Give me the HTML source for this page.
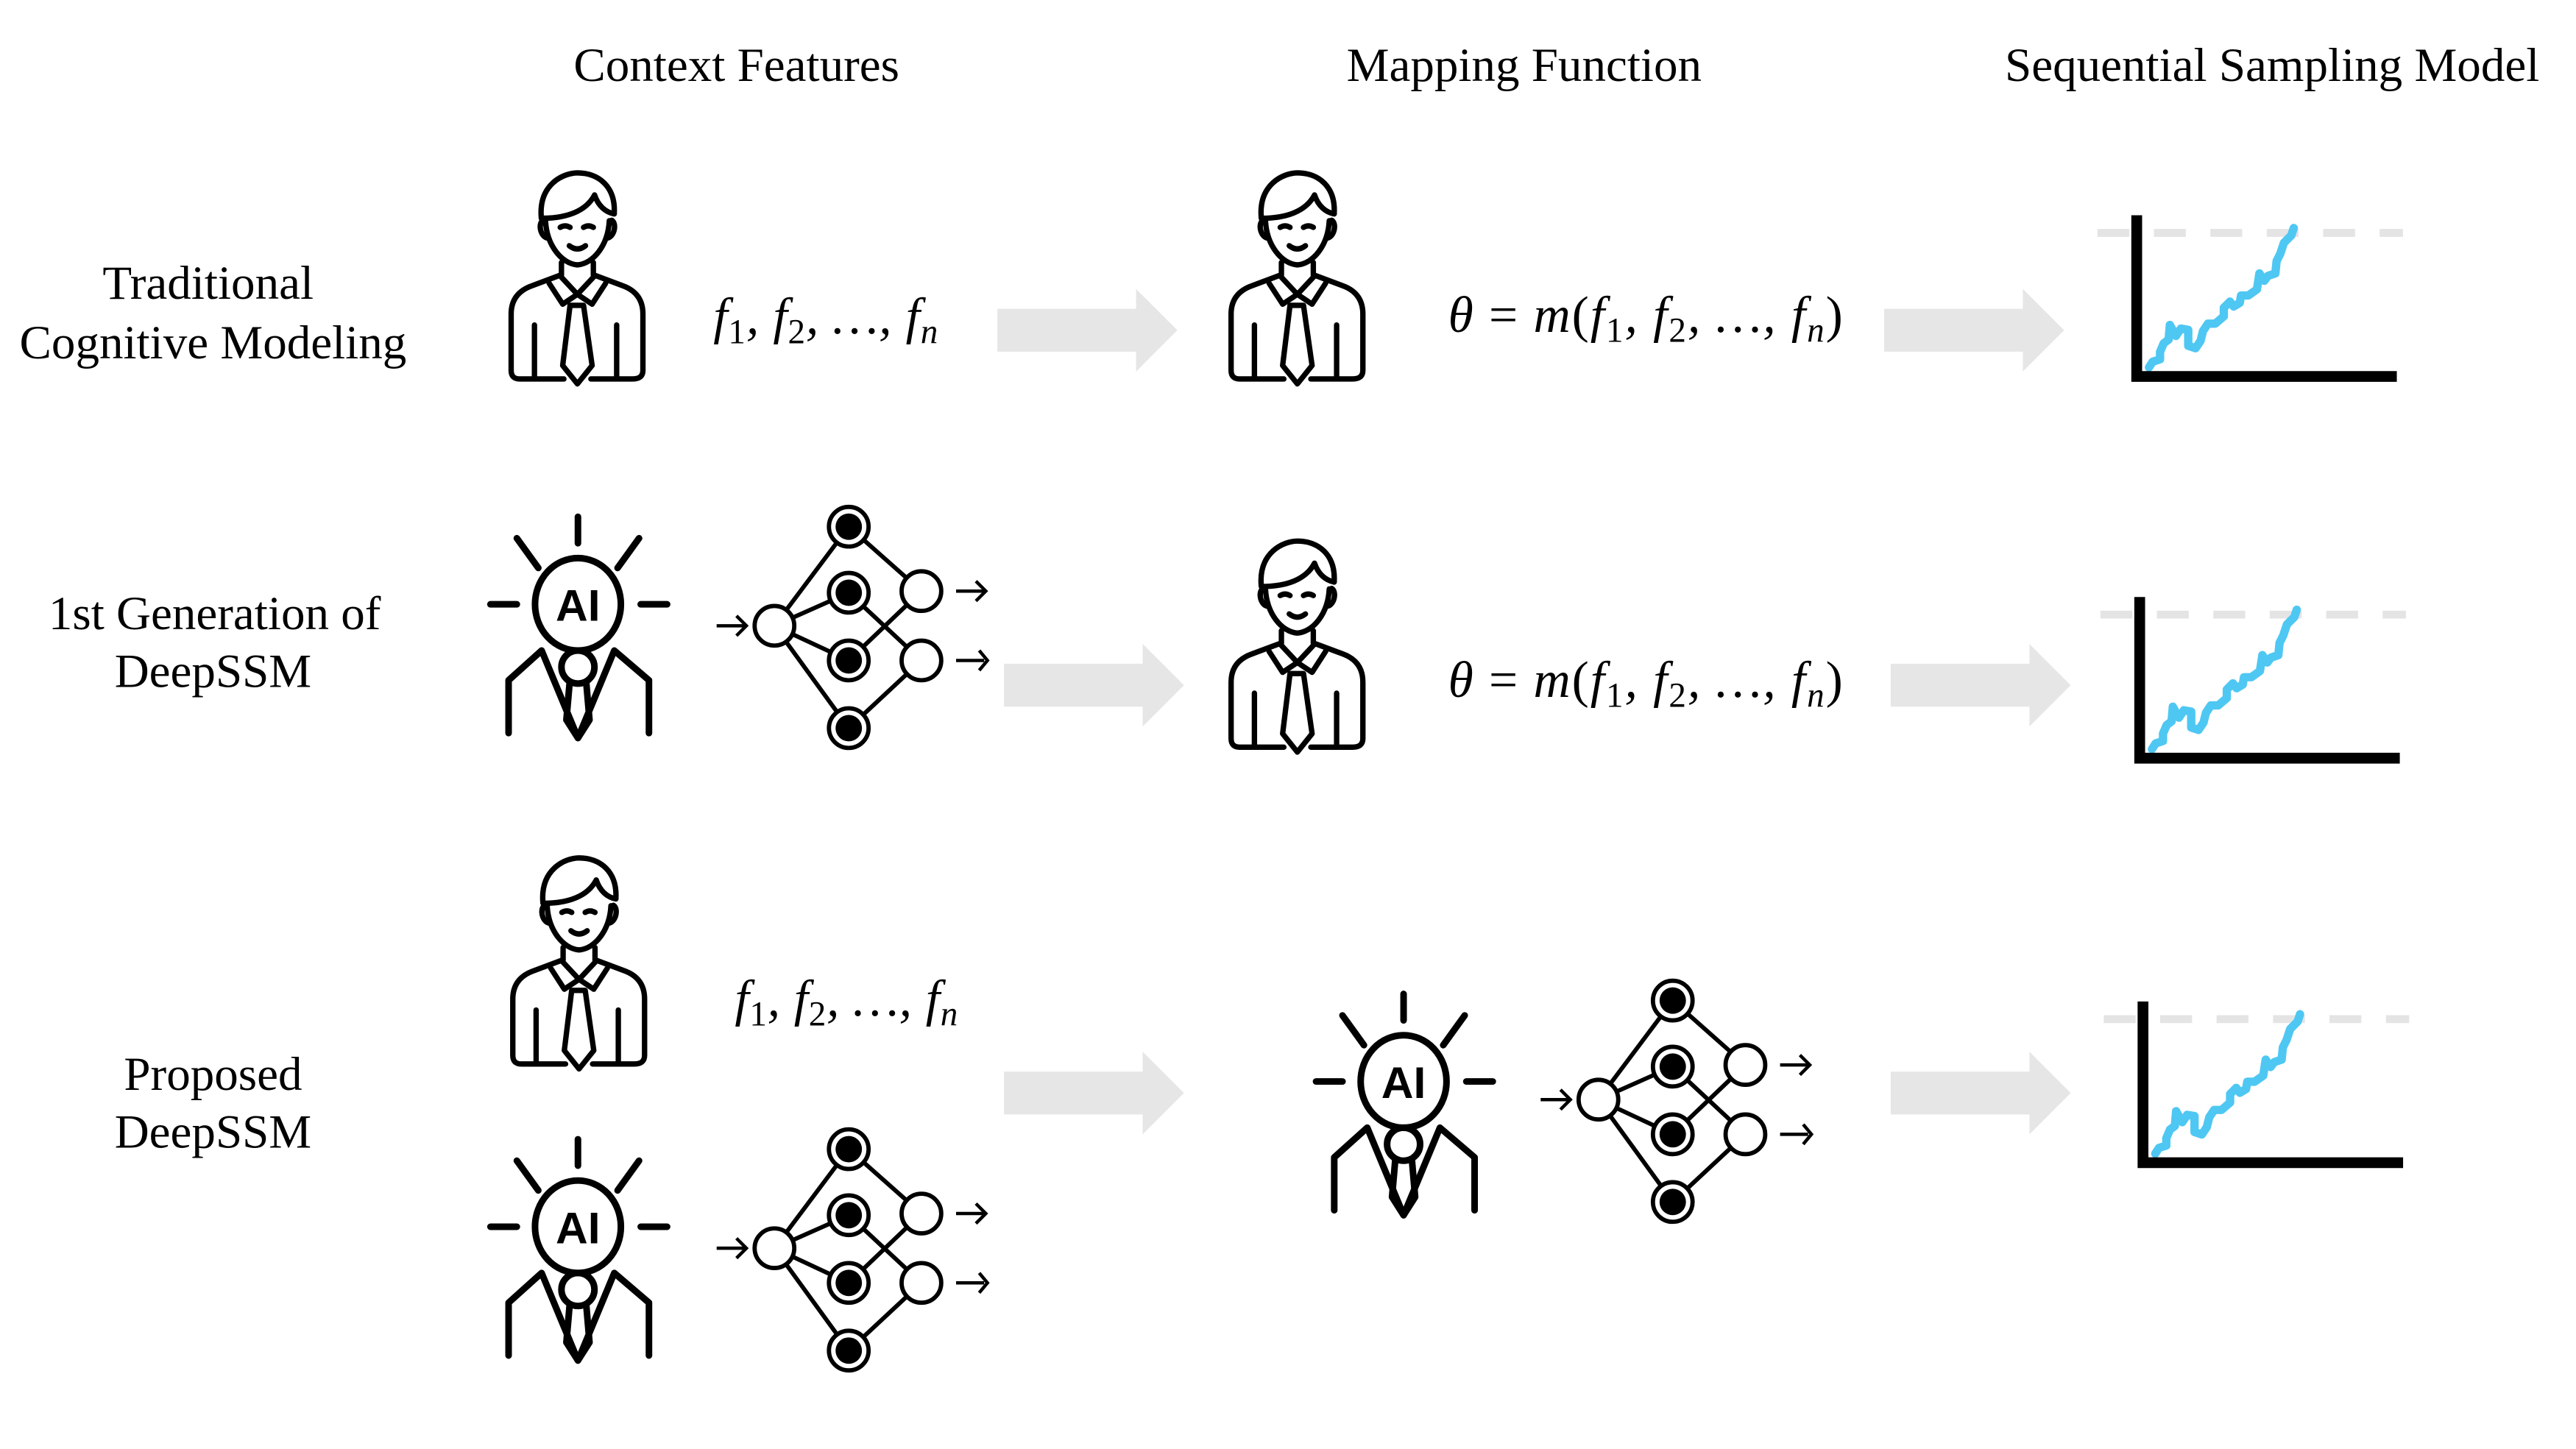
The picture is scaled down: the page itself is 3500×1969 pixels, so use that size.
<!DOCTYPE html>
<html><head><meta charset="utf-8"><style>html,body{margin:0;padding:0;background:#fff}svg{display:block}</style></head>
<body>
<svg width="3500" height="1969" viewBox="0 0 1560 877.6" xmlns="http://www.w3.org/2000/svg">
<defs>
<g id="person" fill="none" stroke="#000" stroke-width="22" stroke-linecap="round" stroke-linejoin="round">
  <path d="M268,290 C255,150 360,105 415,105 C500,105 572,160 565,272"/>
  <path d="M270,290 C370,290 450,262 485,195 C500,240 530,265 565,272"/>
  <path d="M285,300 C290,400 350,475 415,480 C480,475 540,400 545,300"/>
  <path d="M275,298 C255,310 262,360 290,370"/>
  <path d="M555,298 C575,310 568,360 540,370"/>
  <path d="M345,327 Q365,315 385,327"/>
  <path d="M440,327 Q460,315 480,327"/>
  <path d="M382,402 Q415,428 448,402"/>
  <path d="M350,470 L350,522"/>
  <path d="M480,470 L480,522"/>
  <path d="M360,945 L180,945 Q145,945 145,910 L145,680 Q145,595 230,565 L345,522"/>
  <path d="M470,945 L640,945 Q682,945 682,910 L682,680 Q682,595 600,565 L485,522"/>
  <path d="M240,725 L240,935"/>
  <path d="M575,725 L575,935"/>
  <path d="M300,555 L355,640 L415,600 L475,640 L530,555"/>
  <path d="M345,525 L415,600 L485,525"/>
  <path d="M385,645 L440,645 L475,890 L415,965 L355,890 Z"/>
</g>
<g id="ai" fill="none" stroke="#000" stroke-width="4" stroke-linecap="round" stroke-linejoin="round">
  <path d="M352,314 L352,330"/>
  <path d="M299,367 L315,367"/>
  <path d="M390,367 L406,367"/>
  <path d="M315,327 L328,345"/>
  <path d="M389,327 L376,345"/>
  <ellipse cx="352" cy="367" rx="26" ry="28"/>
  <circle cx="352" cy="405" r="10"/>
  <path d="M310,445 L310,413 L330,395 L352,448 L374,395 L395,413 L395,445"/>
  <path d="M347,414 L345,437 L352,448 L359,437 L357,414"/>
  <text x="352" y="377" text-anchor="middle" font-family="Liberation Sans, sans-serif" font-weight="bold" font-size="27" fill="#000" stroke="none">AI</text>
</g>
<g id="net" stroke="#000" stroke-width="2.6" fill="none">
  <path d="M471,380 L516,320 M471,380 L516,360 M471,380 L516,401 M471,380 L516,442 M516,320 L560,359 M516,360 L560,401 M516,401 L560,359 M516,442 L560,401"/>
  <g fill="#fff"><circle cx="471" cy="380" r="12"/><circle cx="560" cy="359" r="12"/><circle cx="560" cy="401" r="12"/>
  <circle cx="516" cy="320" r="12"/><circle cx="516" cy="360" r="12"/><circle cx="516" cy="401" r="12"/><circle cx="516" cy="442" r="12"/></g>
  <g fill="#000" stroke="none"><circle cx="516" cy="320" r="8"/><circle cx="516" cy="360" r="8"/><circle cx="516" cy="401" r="8"/><circle cx="516" cy="442" r="8"/></g>
  <path d="M436,380 L453,380 M448,374 L454,380 L448,386 M581,359 L598,359 M593,353 L599,359 L593,365 M581,401 L598,401 M595,395 L600,401 L595,407" stroke-width="2"/>
</g>
<path id="garrow" d="M0,-13 L84,-13 L84,-25 L109,0 L84,25 L84,13 L0,13 Z" fill="#e6e6e6"/>
<g id="chart">
  <path d="M0,170 L1245,170" stroke="#e4e4e4" stroke-width="32" stroke-dasharray="130,100"/>
  <path d="M210,718 L225,695 L255,685 L255,655 L270,620 L290,605 L295,545 L320,590 L340,560 L370,565 L370,630 L400,640 L420,610 L430,570 L450,540 L480,540 L515,510 L515,475 L540,450 L555,470 L580,455 L585,425 L615,425 L650,400 L660,335 L680,365 L695,345 L725,335 L730,285 L745,255 L760,210 L790,180 L800,150" fill="none" stroke="#4fc7f3" stroke-width="34" stroke-linecap="round" stroke-linejoin="round"/>
  <path d="M160,98 L160,755 L1220,755" fill="none" stroke="#000" stroke-width="44"/>
</g>
</defs>

<g font-family="Liberation Serif, serif" font-size="29" fill="#000" text-anchor="middle">
  <text x="446" y="49">Context Features</text>
  <text x="923" y="49">Mapping Function</text>
  <text x="1376" y="49">Sequential Sampling Model</text>
  <text x="126" y="181">Traditional</text>
  <text x="129" y="217">Cognitive Modeling</text>
  <text x="130" y="381">1st Generation of</text>
  <text x="129" y="416">DeepSSM</text>
  <text x="129" y="660">Proposed</text>
  <text x="129" y="695">DeepSSM</text>
</g>
<g font-family="Liberation Serif, serif" font-size="31" font-style="italic" fill="#000">
  <text x="432" y="202" textLength="136" lengthAdjust="spacing"><tspan>f</tspan><tspan font-size="21" dy="6" font-style="normal">1</tspan><tspan dy="-6">, f</tspan><tspan font-size="21" dy="6" font-style="normal">2</tspan><tspan dy="-6">, …, f</tspan><tspan font-size="21" dy="6">n</tspan></text>
  <text x="445" y="615" textLength="135" lengthAdjust="spacing"><tspan>f</tspan><tspan font-size="21" dy="6" font-style="normal">1</tspan><tspan dy="-6">, f</tspan><tspan font-size="21" dy="6" font-style="normal">2</tspan><tspan dy="-6">, …, f</tspan><tspan font-size="21" dy="6">n</tspan></text>
  <text x="877" y="201" textLength="239" lengthAdjust="spacing"><tspan>θ </tspan><tspan font-style="normal">= </tspan><tspan>m</tspan><tspan font-style="normal">(</tspan><tspan>f</tspan><tspan font-size="21" dy="6" font-style="normal">1</tspan><tspan dy="-6">, f</tspan><tspan font-size="21" dy="6" font-style="normal">2</tspan><tspan dy="-6">, …, f</tspan><tspan font-size="21" dy="6">n</tspan><tspan dy="-6" font-style="normal">)</tspan></text>
  <text x="877" y="422" textLength="239" lengthAdjust="spacing"><tspan>θ </tspan><tspan font-style="normal">= </tspan><tspan>m</tspan><tspan font-style="normal">(</tspan><tspan>f</tspan><tspan font-size="21" dy="6" font-style="normal">1</tspan><tspan dy="-6">, f</tspan><tspan font-size="21" dy="6" font-style="normal">2</tspan><tspan dy="-6">, …, f</tspan><tspan font-size="21" dy="6">n</tspan><tspan dy="-6" font-style="normal">)</tspan></text>
</g>

<use href="#person" transform="translate(288,89.1) scale(0.1486)"/>
<use href="#person" transform="translate(724,89.1) scale(0.1486)"/>
<use href="#person" transform="translate(724,312.1) scale(0.1486)"/>
<use href="#person" transform="translate(289,504) scale(0.1486)"/>

<g transform="translate(-2,-1)">
<use href="#ai"/>
<use href="#net"/>
<use href="#ai" transform="translate(0,377)"/>
<use href="#net" transform="translate(0,377)"/>
<use href="#ai" transform="translate(500,289)"/>
<use href="#net" transform="translate(499,287)"/>
</g>

<use href="#garrow" transform="translate(604,200)"/>
<use href="#garrow" transform="translate(1141,200)"/>
<use href="#garrow" transform="translate(608,415)"/>
<use href="#garrow" transform="translate(1145,415)"/>
<use href="#garrow" transform="translate(608,662)"/>
<use href="#garrow" transform="translate(1145,662)"/>

<use href="#chart" transform="translate(1270.2,115.8) scale(0.1486)"/>
<use href="#chart" transform="translate(1272,347) scale(0.1486)"/>
<use href="#chart" transform="translate(1274,592) scale(0.1486)"/>
</svg>
</body></html>
